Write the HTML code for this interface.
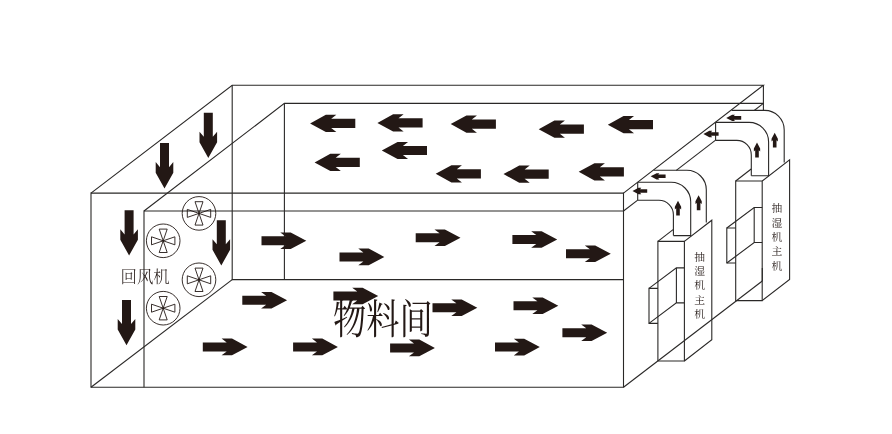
<!DOCTYPE html>
<html lang="zh-CN">
<head>
<meta charset="utf-8">
<title>物料间</title>
<style>
html,body{margin:0;padding:0;background:#fff;}
body{width:892px;height:434px;overflow:hidden;position:relative;font-family:"Liberation Serif","Noto Serif CJK SC",serif;}
svg{position:absolute;left:0;top:0;display:block;}
.ln{fill:none;stroke:#2a2827;stroke-width:1.1;stroke-linecap:butt;stroke-linejoin:miter;}
.fan{fill:none;stroke:#231815;stroke-width:0.9;}
.ar{fill:#231815;stroke:none;}
svg text{text-rendering:geometricPrecision;}
.tx{opacity:0.999;}
text{font-family:"Liberation Serif","Noto Serif CJK SC",serif;fill:#231815;}
</style>
</head>
<body>
<svg width="892" height="434" viewBox="0 0 892 434">
<rect width="892" height="434" fill="#fff"/>
<g class="ln">
<path d="M91 193.1H623.5V387.2H91Z"/>
<path d="M91 193.1L232.2 85.2H763.4L623.5 193.1"/>
<path d="M232.2 85.2V279.6H623.5"/>
<line x1="91" y1="387.2" x2="232.2" y2="279.6"/>
<line x1="623.5" y1="387.2" x2="762.3" y2="281"/>
<line x1="763.4" y1="85.2" x2="763.4" y2="111"/>
<line x1="762.3" y1="268" x2="762.3" y2="281"/>
<path d="M623.5 211H144V387.2"/>
<path d="M144 211L284.4 103.4H763.4"/>
<line x1="284.4" y1="103.4" x2="284.4" y2="279.6"/>
<line x1="623.5" y1="211" x2="637.7" y2="200.0784846318799"/>
<line x1="676.3" y1="170.39042172980703" x2="715.6" y2="140.1639742673338"/>
<line x1="754.2" y1="110.47591136526086" x2="763.4" y2="103.4"/>
<line x1="637.7" y1="182.3" x2="637.7" y2="200.3"/>
<path d="M637.7 182.3H671.2A19.5 19.5 0 0 1 690.7 201.8V235.60000000000002H673.4000000000001"/>
<path d="M637.7 200.3H658.9000000000001A14.5 14.5 0 0 1 673.4000000000001 214.8V235.60000000000002"/>
<path d="M653.7 170.3H686.8000000000001A19.5 19.5 0 0 1 706.3000000000001 189.8V222.5"/>
<path d="M657.9 241.4H684.4V361.0H657.9Z"/>
<line x1="657.9" y1="241.4" x2="673.4" y2="229.4"/>
<path d="M684.4 241.4L711.8 220.20000000000002V339.8L684.4 361.0"/>
<path d="M657.9 288.4H649.0V323.4H657.9"/>
<path d="M649.0 288.4L676.4 267.9H684.4"/>
<path d="M649.0 323.4L676.4 302.9H684.4"/>
<line x1="676.4" y1="267.9" x2="676.4" y2="302.9"/>
<line x1="715.6" y1="122.4" x2="715.6" y2="140.4"/>
<path d="M715.6 122.4H749.1A19.5 19.5 0 0 1 768.6 141.9V175.7H751.3000000000001"/>
<path d="M715.6 140.4H736.8000000000001A14.5 14.5 0 0 1 751.3000000000001 154.9V175.7"/>
<path d="M731.6 110.4H764.7A19.5 19.5 0 0 1 784.2 129.9V162.60000000000002"/>
<path d="M735.7 181H762.2V300.6H735.7Z"/>
<line x1="735.7" y1="181" x2="751.2" y2="169"/>
<path d="M762.2 181L789.6 159.8V279.40000000000003L762.2 300.6"/>
<path d="M735.7 228H726.8000000000001V263H735.7"/>
<path d="M726.8000000000001 228L754.2 207.5H762.2"/>
<path d="M726.8000000000001 263L754.2 242.5H762.2"/>
<line x1="754.2" y1="207.5" x2="754.2" y2="242.5"/>
</g>
<g class="fan">
<g transform="translate(199 213.4)"><circle r="16.8"/><circle r="0.8" fill="#231815" stroke="none"/><path d="M0 0L-4 -11.7H4ZM0 0L-4 11.7H4ZM0 0L-11.7 -4V4ZM0 0L11.7 -4V4Z"/></g>
<g transform="translate(163.2 240.8)"><circle r="16.8"/><circle r="0.8" fill="#231815" stroke="none"/><path d="M0 0L-4 -11.7H4ZM0 0L-4 11.7H4ZM0 0L-11.7 -4V4ZM0 0L11.7 -4V4Z"/></g>
<g transform="translate(199 279.8)"><circle r="16.8"/><circle r="0.8" fill="#231815" stroke="none"/><path d="M0 0L-4 -11.7H4ZM0 0L-4 11.7H4ZM0 0L-11.7 -4V4ZM0 0L11.7 -4V4Z"/></g>
<g transform="translate(163.2 308.2)"><circle r="16.8"/><circle r="0.8" fill="#231815" stroke="none"/><path d="M0 0L-4 -11.7H4ZM0 0L-4 11.7H4ZM0 0L-11.7 -4V4ZM0 0L11.7 -4V4Z"/></g>
</g>
<g class="ar">
<polygon transform="translate(261.5 240.7) rotate(0)" points="0.00,-4.50 23.90,-4.50 18.80,-8.30 29.20,-8.30 44.80,0.00 29.20,8.30 18.80,8.30 23.90,4.50 0.00,4.50"/>
<polygon transform="translate(339.5 256.9) rotate(0)" points="0.00,-4.50 23.90,-4.50 18.80,-8.30 29.20,-8.30 44.80,0.00 29.20,8.30 18.80,8.30 23.90,4.50 0.00,4.50"/>
<polygon transform="translate(415.7 237.8) rotate(0)" points="0.00,-4.50 23.90,-4.50 18.80,-8.30 29.20,-8.30 44.80,0.00 29.20,8.30 18.80,8.30 23.90,4.50 0.00,4.50"/>
<polygon transform="translate(512.4 239.5) rotate(0)" points="0.00,-4.50 23.90,-4.50 18.80,-8.30 29.20,-8.30 44.80,0.00 29.20,8.30 18.80,8.30 23.90,4.50 0.00,4.50"/>
<polygon transform="translate(566 253.7) rotate(0)" points="0.00,-4.50 23.90,-4.50 18.80,-8.30 29.20,-8.30 44.80,0.00 29.20,8.30 18.80,8.30 23.90,4.50 0.00,4.50"/>
<polygon transform="translate(242.3 300.2) rotate(0)" points="0.00,-4.50 23.90,-4.50 18.80,-8.30 29.20,-8.30 44.80,0.00 29.20,8.30 18.80,8.30 23.90,4.50 0.00,4.50"/>
<polygon transform="translate(333.4 296) rotate(0)" points="0.00,-4.50 23.90,-4.50 18.80,-8.30 29.20,-8.30 44.80,0.00 29.20,8.30 18.80,8.30 23.90,4.50 0.00,4.50"/>
<polygon transform="translate(432.5 307.8) rotate(0)" points="0.00,-4.50 23.90,-4.50 18.80,-8.30 29.20,-8.30 44.80,0.00 29.20,8.30 18.80,8.30 23.90,4.50 0.00,4.50"/>
<polygon transform="translate(513.5 305.8) rotate(0)" points="0.00,-4.50 23.90,-4.50 18.80,-8.30 29.20,-8.30 44.80,0.00 29.20,8.30 18.80,8.30 23.90,4.50 0.00,4.50"/>
<polygon transform="translate(562.4 332.8) rotate(0)" points="0.00,-4.50 23.90,-4.50 18.80,-8.30 29.20,-8.30 44.80,0.00 29.20,8.30 18.80,8.30 23.90,4.50 0.00,4.50"/>
<polygon transform="translate(202.8 346.9) rotate(0)" points="0.00,-4.50 23.90,-4.50 18.80,-8.30 29.20,-8.30 44.80,0.00 29.20,8.30 18.80,8.30 23.90,4.50 0.00,4.50"/>
<polygon transform="translate(293.1 346.9) rotate(0)" points="0.00,-4.50 23.90,-4.50 18.80,-8.30 29.20,-8.30 44.80,0.00 29.20,8.30 18.80,8.30 23.90,4.50 0.00,4.50"/>
<polygon transform="translate(390.1 347.9) rotate(0)" points="0.00,-4.50 23.90,-4.50 18.80,-8.30 29.20,-8.30 44.80,0.00 29.20,8.30 18.80,8.30 23.90,4.50 0.00,4.50"/>
<polygon transform="translate(495 347.1) rotate(0)" points="0.00,-4.50 23.90,-4.50 18.80,-8.30 29.20,-8.30 44.80,0.00 29.20,8.30 18.80,8.30 23.90,4.50 0.00,4.50"/>
<polygon transform="translate(355.3 123.4) rotate(180)" points="0.00,-4.60 24.11,-4.60 18.97,-8.60 29.46,-8.60 45.20,0.00 29.46,8.60 18.97,8.60 24.11,4.60 0.00,4.60"/>
<polygon transform="translate(422.59999999999997 122.9) rotate(180)" points="0.00,-4.60 24.11,-4.60 18.97,-8.60 29.46,-8.60 45.20,0.00 29.46,8.60 18.97,8.60 24.11,4.60 0.00,4.60"/>
<polygon transform="translate(495.9 124.1) rotate(180)" points="0.00,-4.60 24.11,-4.60 18.97,-8.60 29.46,-8.60 45.20,0.00 29.46,8.60 18.97,8.60 24.11,4.60 0.00,4.60"/>
<polygon transform="translate(583.9000000000001 129.2) rotate(180)" points="0.00,-4.60 24.11,-4.60 18.97,-8.60 29.46,-8.60 45.20,0.00 29.46,8.60 18.97,8.60 24.11,4.60 0.00,4.60"/>
<polygon transform="translate(653.0 124.7) rotate(180)" points="0.00,-4.60 24.11,-4.60 18.97,-8.60 29.46,-8.60 45.20,0.00 29.46,8.60 18.97,8.60 24.11,4.60 0.00,4.60"/>
<polygon transform="translate(359.8 162.4) rotate(180)" points="0.00,-4.60 24.11,-4.60 18.97,-8.60 29.46,-8.60 45.20,0.00 29.46,8.60 18.97,8.60 24.11,4.60 0.00,4.60"/>
<polygon transform="translate(427.0 150.5) rotate(180)" points="0.00,-4.60 24.11,-4.60 18.97,-8.60 29.46,-8.60 45.20,0.00 29.46,8.60 18.97,8.60 24.11,4.60 0.00,4.60"/>
<polygon transform="translate(480.9 173.8) rotate(180)" points="0.00,-4.60 24.11,-4.60 18.97,-8.60 29.46,-8.60 45.20,0.00 29.46,8.60 18.97,8.60 24.11,4.60 0.00,4.60"/>
<polygon transform="translate(548.7 174.1) rotate(180)" points="0.00,-4.60 24.11,-4.60 18.97,-8.60 29.46,-8.60 45.20,0.00 29.46,8.60 18.97,8.60 24.11,4.60 0.00,4.60"/>
<polygon transform="translate(623.9000000000001 171.8) rotate(180)" points="0.00,-4.60 24.11,-4.60 18.97,-8.60 29.46,-8.60 45.20,0.00 29.46,8.60 18.97,8.60 24.11,4.60 0.00,4.60"/>
<polygon transform="translate(208.3 112.7) rotate(90)" points="0.00,-4.50 24.17,-4.50 19.01,-8.80 29.53,-8.80 45.30,0.00 29.53,8.80 19.01,8.80 24.17,4.50 0.00,4.50"/>
<polygon transform="translate(164.5 143.1) rotate(90)" points="0.00,-4.50 24.17,-4.50 19.01,-8.80 29.53,-8.80 45.30,0.00 29.53,8.80 19.01,8.80 24.17,4.50 0.00,4.50"/>
<polygon transform="translate(129.1 210.3) rotate(90)" points="0.00,-4.50 24.17,-4.50 19.01,-8.80 29.53,-8.80 45.30,0.00 29.53,8.80 19.01,8.80 24.17,4.50 0.00,4.50"/>
<polygon transform="translate(221.3 220.2) rotate(90)" points="0.00,-4.50 24.17,-4.50 19.01,-8.80 29.53,-8.80 45.30,0.00 29.53,8.80 19.01,8.80 24.17,4.50 0.00,4.50"/>
<polygon transform="translate(126.5 299.9) rotate(90)" points="0.00,-4.50 24.17,-4.50 19.01,-8.80 29.53,-8.80 45.30,0.00 29.53,8.80 19.01,8.80 24.17,4.50 0.00,4.50"/>
<polygon transform="translate(647.2 191) rotate(180)" points="0.00,-1.80 7.10,-1.80 5.90,-3.15 8.70,-3.15 14.70,0.00 8.70,3.15 5.90,3.15 7.10,1.80 0.00,1.80"/>
<polygon transform="translate(665.6 176.3) rotate(180)" points="0.00,-1.80 7.40,-1.80 6.20,-3.15 9.00,-3.15 15.00,0.00 9.00,3.15 6.20,3.15 7.40,1.80 0.00,1.80"/>
<polygon transform="translate(718.6 134) rotate(180)" points="0.00,-1.80 7.60,-1.80 6.40,-3.15 9.20,-3.15 15.20,0.00 9.20,3.15 6.40,3.15 7.60,1.80 0.00,1.80"/>
<polygon transform="translate(741.2 117.9) rotate(180)" points="0.00,-1.80 7.40,-1.80 6.20,-3.15 9.00,-3.15 15.00,0.00 9.00,3.15 6.20,3.15 7.40,1.80 0.00,1.80"/>
<polygon transform="translate(678 215.6) rotate(-90)" points="0.00,-1.80 7.30,-1.80 6.10,-3.15 8.90,-3.15 14.90,0.00 8.90,3.15 6.10,3.15 7.30,1.80 0.00,1.80"/>
<polygon transform="translate(698.6 210.2) rotate(-90)" points="0.00,-1.80 7.30,-1.80 6.10,-3.15 8.90,-3.15 14.90,0.00 8.90,3.15 6.10,3.15 7.30,1.80 0.00,1.80"/>
<polygon transform="translate(757 157.5) rotate(-90)" points="0.00,-1.80 7.30,-1.80 6.10,-3.15 8.90,-3.15 14.90,0.00 8.90,3.15 6.10,3.15 7.30,1.80 0.00,1.80"/>
<polygon transform="translate(774.7 147.6) rotate(-90)" points="0.00,-1.80 7.30,-1.80 6.10,-3.15 8.90,-3.15 14.90,0.00 8.90,3.15 6.10,3.15 7.30,1.80 0.00,1.80"/>
</g>
<g class="tx">
<text transform="translate(120.6 282.9) scale(0.94 1)" font-size="17.4" font-weight="300" fill="#2b2624">回风机</text>
<text transform="translate(333 333.6) scale(0.80 1)" font-size="41.5" font-weight="400">物料间</text>
<g font-size="10.8" font-weight="400" fill="#332f2d" text-anchor="middle">
<text x="699.6" y="260.6">抽</text><text x="699.6" y="274.9">湿</text><text x="699.6" y="289.2">机</text><text x="699.6" y="303.5">主</text><text x="699.6" y="317.8">机</text>
<text x="776.9" y="212.3">抽</text><text x="776.9" y="226.6">湿</text><text x="776.9" y="240.9">机</text><text x="776.9" y="255.2">主</text><text x="776.9" y="269.5">机</text>
</g>
</g>
</svg>
</body>
</html>
